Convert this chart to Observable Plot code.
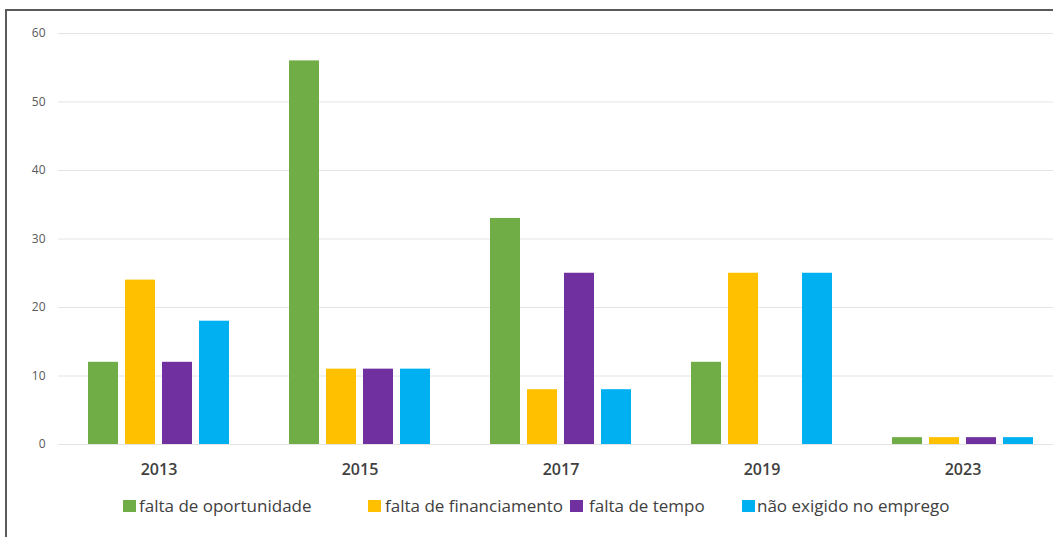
<!DOCTYPE html>
<html>
<head>
<meta charset="utf-8">
<script src="https://cdn.jsdelivr.net/npm/d3@7"></script>
<script src="https://cdn.jsdelivr.net/npm/@observablehq/plot@0.6"></script>
<style>
  html, body { margin: 0; padding: 0; background: #ffffff; }
  body { width: 1053px; height: 537px; overflow: hidden; position: relative; font-family: 'Open Sans', sans-serif; }
  #chart { position: absolute; left: 0; top: 0; width: 1072px; }
  #chart svg { max-width: none; }
  #frame { position: absolute; left: 5px; top: 9px; width: 2000px; height: 2000px;
           border-left: 2px solid #5a5a5a; border-top: 2px solid #5a5a5a; z-index: 5; pointer-events: none; }
  #legend { position: absolute; left: 0; top: 0; z-index: 4; }
</style>
</head>
<body>
<div id="chart"></div>
<div id="frame"></div>
<script>
// ---- data ----
const years = ["2013", "2015", "2017", "2019", "2023"];
const series = ["falta de oportunidade", "falta de financiamento", "falta de tempo", "não exigido no emprego"];
const faltaOportunidade = [12, 56, 33, 12, 1];
const faltaFinanciamento = [24, 11, 8, 25, 1];
const faltaTempo = [12, 11, 25, 0, 1];
const naoExigido = [18, 11, 8, 25, 1];
const yTicks = [0, 10, 20, 30, 40, 50, 60];
const colors = ["#70AD47", "#FFC000", "#7030A0", "#00B0F0"];

// ---- layout (not data) ----
const legendSwatchX = [123, 368, 570, 742];
const legendTextX = [139, 385, 589, 757];

const valuesBySeries = [faltaOportunidade, faltaFinanciamento, faltaTempo, naoExigido];
const data = years.flatMap((yr, i) =>
  series.map((s, j) => ({ year: yr, series: s, value: valuesBySeries[j][i] }))
);

const chart = Plot.plot({
  width: 1072,
  height: 537,
  marginLeft: 57,
  marginRight: 8,
  marginTop: 33,
  marginBottom: 93,
  style: { background: "transparent", fontFamily: "'Open Sans', sans-serif", maxWidth: "none" },
  fx: { domain: years, padding: 0, axis: null, label: null },
  x: { domain: series, axis: null, paddingInner: 0.2, paddingOuter: 0.8 },
  y: { domain: [0, 60], axis: null },
  color: { domain: series, range: colors },
  marks: [
    Plot.ruleY(yTicks, { stroke: "#e4e4e4", strokeWidth: 1 }),
    Plot.barY(data, { fx: "year", x: "series", y: "value", fill: "series" }),
    Plot.text(years, {
      fx: d => d, frameAnchor: "bottom", dy: 30, text: d => d,
      fontSize: 16, fontWeight: 600, fill: "#404040"
    }),
    Plot.text(yTicks, {
      fx: () => "2013", y: d => d, frameAnchor: "left", dx: -13, textAnchor: "end",
      text: d => String(d), fontSize: 12, fill: "#595959"
    })
  ]
});
document.getElementById("chart").appendChild(chart);

// ---- legend ----
const legend = d3.create("svg")
  .attr("id", "legend")
  .attr("width", 1053)
  .attr("height", 537);
series.forEach((s, i) => {
  legend.append("rect")
    .attr("x", legendSwatchX[i]).attr("y", 500)
    .attr("width", 13).attr("height", 12)
    .attr("fill", colors[i]);
  legend.append("text")
    .attr("x", legendTextX[i]).attr("y", 512)
    .attr("font-family", "'Open Sans', sans-serif")
    .attr("font-size", 17)
    .attr("fill", "#404040")
    .text(s);
});
document.body.appendChild(legend.node());
</script>
</body>
</html>
